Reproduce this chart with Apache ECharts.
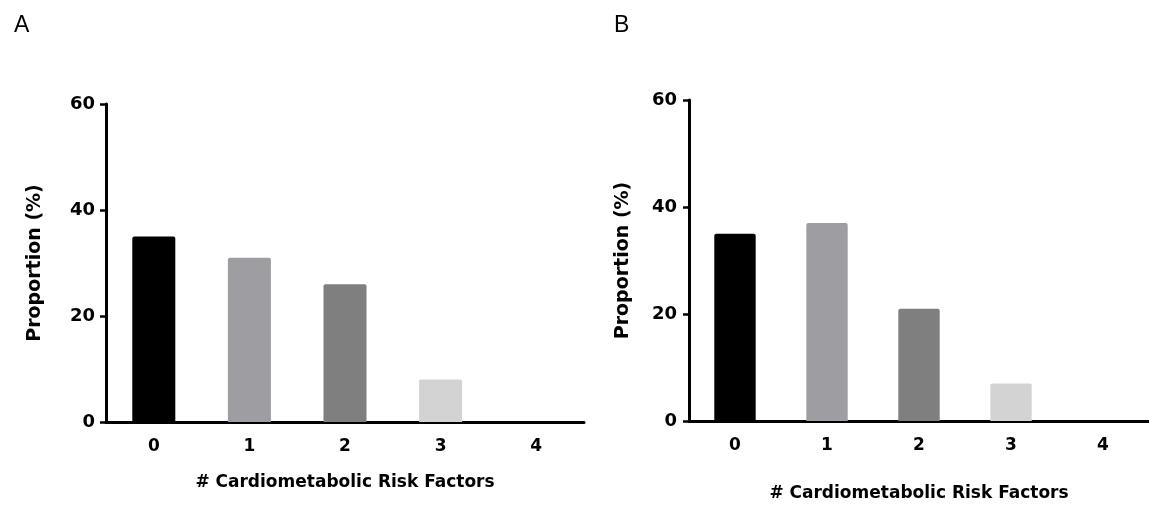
<!DOCTYPE html>
<html lang="en">
<head>
<meta charset="utf-8">
<title>Cardiometabolic Risk Factors</title>
<script src="https://cdn.jsdelivr.net/npm/echarts@6/dist/echarts.min.js"></script>
<style>
  html, body { margin: 0; padding: 0; background: #fff; }
  #chart { width: 1149px; height: 507px; }
</style>
</head>
<body>
<div id="chart"></div>
<script>
// data
var categories = ['0', '1', '2', '3', '4'];
var propA = [35, 31, 26, 8, 0];
var propB = [35, 37, 21, 7, 0];
var barColors = ['#000000', '#9e9ea2', '#7f7f7f', '#d3d3d3', '#ffffff'];
var panelLabels = ['A', 'B'];
var xTitle = '# Cardiometabolic Risk Factors';
var yTitle = 'Proportion (%)';

// the figure's lettering is a bit stretched, DejaVu bold is closer in width
var font = 'DejaVu Sans, Liberation Sans, sans-serif';

function colored(vals) {
    return vals.map(function (v, i) {
        return { value: v, itemStyle: { color: barColors[i] } };
    });
}

function xAxis(idx, gap) {
    return {
        type: 'category',
        gridIndex: idx,
        data: categories,
        name: xTitle,
        nameLocation: 'middle',
        nameGap: gap,
        nameTextStyle: { fontFamily: font, fontWeight: 'bold', fontSize: 17, color: '#000' },
        axisLine: { lineStyle: { color: '#000', width: 3 } },
        axisTick: { alignWithLabel: true, length: 6, lineStyle: { color: '#000', width: 2.5 } },
        axisLabel: { fontFamily: font, fontWeight: 'bold', fontSize: 17, color: '#000', margin: 16 }
    };
}

function yAxis(idx, gap, lblMargin) {
    return {
        type: 'value',
        gridIndex: idx,
        min: 0, max: 60, interval: 20,
        name: yTitle,
        nameLocation: 'middle',
        nameGap: gap,
        nameTextStyle: { fontFamily: font, fontWeight: 'bold', fontSize: 19, color: '#000' },
        axisLine: { show: true, lineStyle: { color: '#000', width: 3 } },
        axisTick: { show: true, length: 6, lineStyle: { color: '#000', width: 2.5 } },
        axisLabel: { fontFamily: font, fontWeight: 'bold', fontSize: 18, color: '#000', margin: lblMargin },
        splitLine: { show: false }
    };
}

var chart = echarts.init(document.getElementById('chart'));
chart.setOption({
    backgroundColor: '#fff',
    animation: false,
    title: [
        { text: panelLabels[0], left: 9, top: 9, textStyle: { fontFamily: 'Liberation Sans', fontWeight: 'normal', fontSize: 23, color: '#000' } },
        { text: panelLabels[1], left: 609, top: 9, textStyle: { fontFamily: 'Liberation Sans', fontWeight: 'normal', fontSize: 23, color: '#000' } }
    ],
    grid: [
        { left: 106, top: 104, width: 478, height: 318 },
        { left: 689, top: 100, width: 462, height: 323 }
    ],
    xAxis: [xAxis(0, 52), xAxis(1, 64)],
    yAxis: [yAxis(0, 61, 11), yAxis(1, 56, 12)],
    series: [
        {
            type: 'bar', xAxisIndex: 0, yAxisIndex: 0,
            data: colored(propA), barWidth: '45%',
            itemStyle: { borderRadius: [2, 2, 0, 0] }
        },
        {
            type: 'bar', xAxisIndex: 1, yAxisIndex: 1,
            data: colored(propB), barWidth: '45%',
            itemStyle: { borderRadius: [2, 2, 0, 0] }
        }
    ]
});
</script>
</body>
</html>
